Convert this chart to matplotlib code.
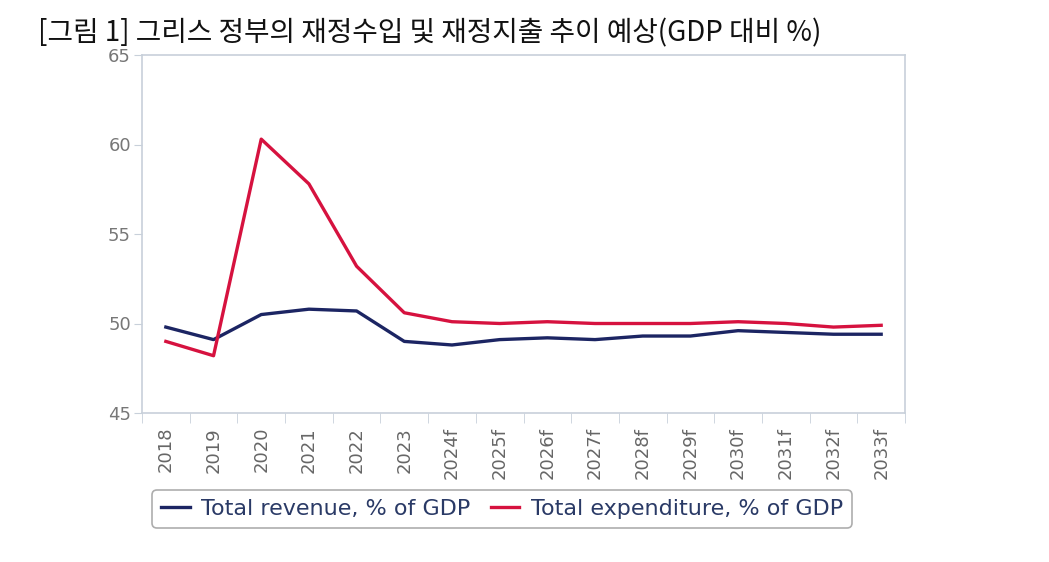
import matplotlib
matplotlib.use("Agg")
import matplotlib.pyplot as plt
import numpy as np

years = ["2018", "2019", "2020", "2021", "2022", "2023", "2024f", "2025f",
         "2026f", "2027f", "2028f", "2029f", "2030f", "2031f", "2032f", "2033f"]
revenue = [49.8, 49.1, 50.5, 50.8, 50.7, 49.0, 48.8, 49.1,
           49.2, 49.1, 49.3, 49.3, 49.6, 49.5, 49.4, 49.4]
expenditure = [49.0, 48.2, 60.3, 57.8, 53.2, 50.6, 50.1, 50.0,
               50.1, 50.0, 50.0, 50.0, 50.1, 50.0, 49.8, 49.9]

title = "[그림 1] 그리스 정부의 재정수입 및 재정지출 추이 예상(GDP 대비 %)"

plt.rcParams['font.family'] = ['DejaVu Sans']

fig = plt.figure(figsize=(10.49, 5.62), dpi=100)
ax = fig.add_axes([142 / 1049, 1 - 413 / 562, 763 / 1049, 358 / 562])

x = np.arange(len(years))
ax.plot(x, revenue, color="#1c2563", lw=2.4, label="Total revenue, % of GDP")
ax.plot(x, expenditure, color="#d6123f", lw=2.4, label="Total expenditure, % of GDP")

ax.set_xlim(-0.5, len(years) - 0.5)
ax.set_ylim(45, 65)
ax.set_yticks([45, 50, 55, 60, 65])

ax.set_xticks(x)
ax.set_xticklabels(years, rotation=90, fontsize=13, color="#666666")
ax.set_xticks(np.arange(-0.5, len(years), 1), minor=True)
ax.tick_params(axis="x", which="major", length=0, pad=10)
ax.tick_params(axis="x", which="minor", length=7, color="#c8d0da", direction="out")
ax.tick_params(axis="y", length=6, color="#c8d0da", labelsize=13, labelcolor="#777777", pad=2)

for s in ax.spines.values():
    s.set_color("#c8d0da")
    s.set_linewidth(1.2)

fig.text(38 / 1049, 1 - 33 / 562, title, fontsize=20, va="center", ha="left",
         family=["Noto Sans CJK KR", "DejaVu Sans"], color="#111111")

leg = fig.legend(loc="center", bbox_to_anchor=(502 / 1049, 1 - 509 / 562), ncol=2,
                 fontsize=16, frameon=True, fancybox=True, handlelength=1.3,
                 columnspacing=0.9, handletextpad=0.5, borderpad=0.4)
leg.get_frame().set_edgecolor("#999999")
leg.get_frame().set_linewidth(1.2)
for t in leg.get_texts():
    t.set_color("#2a3a66")

fig.savefig("out.png", dpi=100)
